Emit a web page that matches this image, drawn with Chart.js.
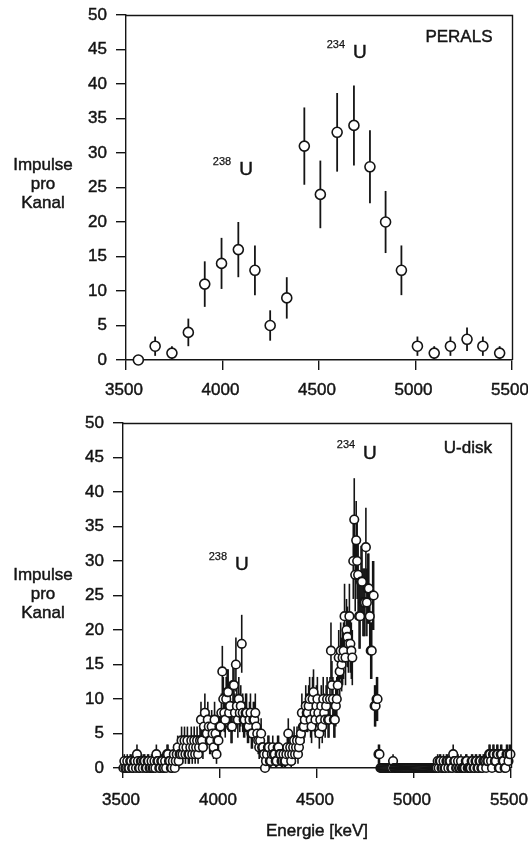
<!DOCTYPE html>
<html>
<head>
<meta charset="utf-8">
<title>Alpha spectra: PERALS and U-disk</title>
<script src="https://cdn.jsdelivr.net/npm/chart.js@4.4.1/dist/chart.umd.min.js"></script>
<style>
  html, body { margin: 0; padding: 0; background: #fff; width: 528px; height: 843px; overflow: hidden; }
  canvas.panel { position: absolute; left: 0; }
  #perals { top: 0; }
  #udisk { top: 408px; }
</style>
</head>
<body>
<canvas id="perals" class="panel" width="528" height="410"></canvas>
<canvas id="udisk" class="panel" width="528" height="435"></canvas>
<script>
// ---- axis ticks ----
const energyTicks = [3500, 4000, 4500, 5000, 5500];
const countTicks = [0, 5, 10, 15, 20, 25, 30, 35, 40, 45, 50];
const countCaption = ['Impulse', 'pro', 'Kanal'];

// ---- PERALS spectrum (wide bins) ----
const perEnergy = [3564, 3651, 3738, 3823, 3908, 3995, 4082, 4168, 4247, 4333, 4424, 4507,
                   4594, 4681, 4764, 4845, 4927, 5010, 5097, 5181, 5267, 5349, 5436];
const perCounts = [0, 2, 1, 4, 11, 14, 16, 13, 5, 9, 31, 24,
                   33, 34, 28, 20, 13, 2, 1, 2, 3, 2, 1];
const perError  = [0, 1.4, 1, 2, 3.3, 3.7, 4, 3.6, 2.2, 3, 5.6, 4.9,
                   5.7, 5.8, 5.3, 4.5, 3.6, 1.4, 1, 1.4, 1.7, 1.4, 1];

// ---- U-disk spectrum (5 keV channels, first channel at 3502 keV) ----
const diskFirstChannelKeV = 3502;
const diskChannelWidthKeV = 5;
const diskCounts = [
  0, 1, 0, 0, 1, 0, 0, 1, 1, 0, 0, 1, 1, 0, 2, 1, 0, 0, 1, 1,            // 3502-3597
  0, 1, 1, 0, 0, 1, 1, 0, 0, 1, 0, 0, 1, 0, 2, 1, 1, 0, 0, 1,            // 3602-3697
  1, 0, 0, 1, 0, 2, 2, 1, 1, 0, 0, 1, 2, 0, 1, 2, 3, 1, 2, 2,            // 3702-3797
  4, 2, 3, 4, 2, 3, 4, 2, 2, 3, 4, 2, 3, 4, 2, 3, 4, 2, 3, 4,            // 3802-3897
  7, 4, 3, 6, 8, 5, 5, 7, 6, 4, 4, 6, 5, 3, 7, 5, 2, 4, 4, 6,            // 3902-3997
  6, 8, 14, 10, 8, 7, 10, 11, 11, 8, 9, 6, 6, 12, 12, 8, 15, 9, 7, 10,   // 4002-4097
  8, 9, 18, 8, 7, 7, 8, 8, 6, 6, 7, 8, 5, 5, 7, 7, 8, 6, 5, 4,           // 4102-4197
  3, 4, 5, 3, 3, 2, 0, 1, 2, 3, 3, 1, 1, 2, 3, 2, 2, 1, 1, 3,            // 4202-4297
  3, 2, 2, 1, 1, 2, 1, 1, 2, 3, 5, 2, 3, 1, 2, 3, 4, 2, 3, 4,            // 4302-4397
  2, 3, 4, 5, 8, 6, 6, 7, 9, 8, 8, 9, 10, 7, 6, 10, 11, 8, 7, 9,         // 4402-4497
  10, 8, 5, 7, 9, 6, 10, 8, 7, 9, 10, 7, 7, 10, 17, 12, 10, 7, 7, 9,     // 4502-4597
  10, 12, 16, 14, 17, 15, 16, 17, 22, 16, 20, 19, 18, 22, 18, 17, 16, 30, 36, 28, // 4602-4697
  33, 30, 28, 22, 22, 27, 27, 24, 24, 24, 32, 24, 26, 26, 22, 17, 17, 25, 25, 9,  // 4702-4797
  9, 10, 10, 2, 2, 0, 0, 0, 0, 0, 0, 0, 0, 0, 0, 0, 0, 0, 1, 0,          // 4802-4897
  0, 0, 0, 0, 0, 0, 0, 0, 0, 0, 0, 0, 0, 0, 0, 0, 0, 0, 0, 0,            // 4902-4997
  0, 0, 0, 0, 0, 0, 0, 0, 0, 0, 0, 0, 0, 0, 0, 0, 0, 0, 0, 0,            // 5002-5097
  0, 0, 0, 0, 1, 0, 1, 1, 0, 0, 1, 0, 0, 1, 1, 0, 1, 1, 0, 0,            // 5102-5197
  2, 1, 1, 0, 0, 1, 0, 0, 1, 0, 0, 0, 0, 1, 1, 0, 0, 0, 0, 1,            // 5202-5297
  1, 0, 0, 1, 1, 0, 0, 1, 1, 0, 0, 1, 1, 1, 0, 1, 1, 2, 2, 1,            // 5302-5397
  0, 2, 2, 1, 1, 2, 2, 0, 0, 2, 2, 1, 1, 0, 0, 2, 2, 1, 2, 2             // 5402-5497
];
// half-length of the counting error bar for a channel holding n counts (index = n)
const diskErrorForCount = [0, 1, 1.4, 1.7, 2, 2.2, 2.4, 2.6, 2.8, 3, 3.2, 3.3, 3.5, 3.6, 3.7, 3.9,
  4, 4.1, 4.2, 4.4, 4.5, 4.6, 4.7, 4.8, 4.9, 5, 5.1, 5.2, 5.3, 5.4, 5.5, 5.6, 5.7, 5.7, 5.8, 5.9, 6];

const INK = '#141414';
const FAMILY = '"Liberation Sans", Arial, Helvetica, sans-serif';
const TEXT_STROKE = 0.45;
Chart.defaults.font.family = FAMILY;
Chart.defaults.font.size = 17;
Chart.defaults.color = INK;

// vertical error bars, drawn underneath the open circles
const errorBars = {
  id: 'errorBars',
  beforeDatasetsDraw(chart, args, opts) {
    const { ctx, scales: { x, y } } = chart;
    ctx.save();
    ctx.strokeStyle = INK;
    ctx.lineWidth = opts.width;
    chart.data.datasets[0].data.forEach(p => {
      if (!p.err) return;
      const px = x.getPixelForValue(p.x);
      ctx.beginPath();
      ctx.moveTo(px, y.getPixelForValue(p.y - p.err));
      ctx.lineTo(px, y.getPixelForValue(p.y + p.err));
      ctx.stroke();
    });
    ctx.restore();
  }
};

// closes the plot box on the top and right
const frameBox = {
  id: 'frameBox',
  afterDraw(chart) {
    const { ctx, chartArea: a } = chart;
    ctx.save();
    ctx.strokeStyle = INK;
    ctx.lineWidth = 1.4;
    ctx.beginPath();
    ctx.moveTo(a.left, Math.round(a.top) + 0.5);
    ctx.lineTo(Math.round(a.right) + 0.5, Math.round(a.top) + 0.5);
    ctx.lineTo(Math.round(a.right) + 0.5, a.bottom);
    ctx.stroke();
    ctx.restore();
  }
};

function inkText(ctx, text, x, y) {
  ctx.strokeText(text, x, y);
  ctx.fillText(text, x, y);
}

// axis captions, detector name and isotope labels
const panelText = {
  id: 'panelText',
  afterDraw(chart, args, o) {
    const { ctx, chartArea: a, scales: { x, y } } = chart;
    ctx.save();
    ctx.fillStyle = INK;
    ctx.strokeStyle = INK;
    ctx.lineWidth = TEXT_STROKE;
    ctx.textAlign = 'center';
    ctx.textBaseline = 'middle';
    ctx.font = '17px ' + FAMILY;
    const mid = y.getPixelForValue(o.captionAt);
    countCaption.forEach((t, i) => inkText(ctx, t, 43, mid + (i - 1) * 19));
    inkText(ctx, o.name, x.getPixelForValue(o.nameAt[0]), y.getPixelForValue(o.nameAt[1]));
    if (o.xCaption) {
      inkText(ctx, o.xCaption, (a.left + a.right) / 2, chart.height - 12);
    }
    o.isotopes.forEach(iso => {
      const px = x.getPixelForValue(iso.at[0]);
      const py = y.getPixelForValue(iso.at[1]);
      ctx.font = '19px ' + FAMILY;
      inkText(ctx, 'U', px, py);
      ctx.font = '11px ' + FAMILY;
      ctx.lineWidth = 0.25;
      inkText(ctx, iso.mass, px - 24, py - 8);
      ctx.lineWidth = TEXT_STROKE;
    });
    ctx.restore();
  }
};

function axisLines() {
  return {
    grid: { display: true, drawOnChartArea: false, drawTicks: true, tickLength: 10, color: INK, lineWidth: 1.4 },
    border: { display: true, color: INK, width: 1.4 }
  };
}

function drawPanel(canvasId, points, cfg) {
  return new Chart(document.getElementById(canvasId), {
    type: 'scatter',
    data: {
      datasets: [{
        data: points,
        clip: false,
        pointRadius: cfg.radius,
        pointHoverRadius: cfg.radius,
        pointBorderWidth: cfg.stroke,
        pointBackgroundColor: '#fff',
        pointBorderColor: INK
      }]
    },
    options: {
      responsive: false,
      animation: false,
      events: [],
      layout: { padding: { top: 15, right: cfg.padRight, left: 0, bottom: 0 } },
      plugins: {
        legend: { display: false },
        tooltip: { enabled: false },
        errorBars: { width: cfg.barWidth },
        panelText: cfg.text
      },
      scales: {
        x: {
          type: 'linear', min: 3500, max: 5500,
          afterBuildTicks: s => { s.ticks = energyTicks.map(v => ({ value: v })); },
          afterFit: s => { s.height = cfg.xAxisHeight; s.paddingLeft = 0; s.paddingRight = 0; },
          ...axisLines(),
          ticks: { padding: cfg.xLabelPad, labelOffset: -2, maxRotation: 0, autoSkip: false,
                   callback: v => String(v), textStrokeColor: INK, textStrokeWidth: TEXT_STROKE }
        },
        y: {
          type: 'linear', min: 0, max: 50,
          afterBuildTicks: s => { s.ticks = countTicks.map(v => ({ value: v })); },
          afterFit: s => { s.width = cfg.yAxisWidth; s.paddingTop = 0; s.paddingBottom = 0; },
          ...axisLines(),
          ticks: { padding: 9, autoSkip: false, callback: v => String(v),
                   textStrokeColor: INK, textStrokeWidth: TEXT_STROKE }
        }
      }
    },
    plugins: [errorBars, frameBox, panelText]
  });
}

const perPoints = perEnergy.map((e, i) => ({ x: e, y: perCounts[i], err: perError[i] }));
const diskPoints = diskCounts.map((n, i) => ({
  x: diskFirstChannelKeV + i * diskChannelWidthKeV, y: n, err: diskErrorForCount[n]
}));

drawPanel('perals', perPoints, {
  radius: 5, stroke: 1.6, barWidth: 1.8, padRight: 16, yAxisWidth: 126,
  xAxisHeight: 50, xLabelPad: 10,
  text: {
    captionAt: 25.5, name: 'PERALS', nameAt: [5225, 46.7],
    isotopes: [{ mass: '234', at: [4712, 44.5] }, { mass: '238', at: [4122, 27.5] }]
  }
});

drawPanel('udisk', diskPoints, {
  radius: 4.3, stroke: 1.6, barWidth: 1.6, padRight: 17, yAxisWidth: 123,
  xAxisHeight: 75, xLabelPad: 12,
  text: {
    captionAt: 25.1, name: 'U-disk', nameAt: [5278, 46.4], xCaption: 'Energie [keV]',
    isotopes: [{ mass: '234', at: [4773, 45.6] }, { mass: '238', at: [4113, 29.4] }]
  }
});
</script>
</body>
</html>
